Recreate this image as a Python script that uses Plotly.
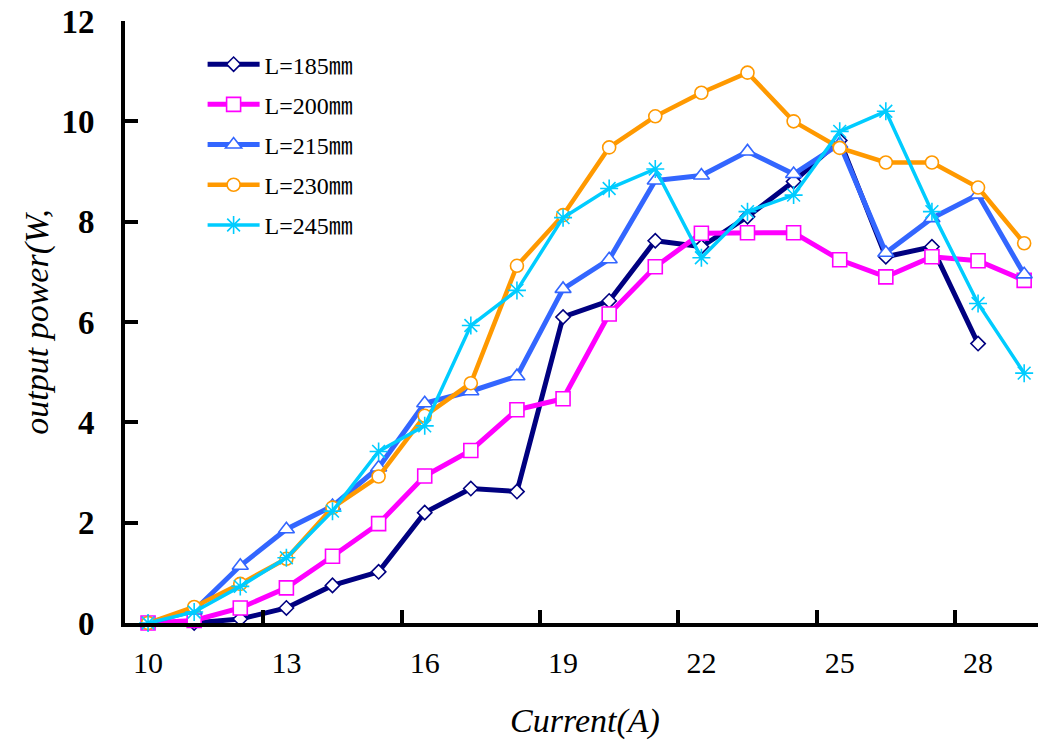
import plotly.graph_objects as go

current = [10, 11, 12, 13, 14, 15, 16, 17, 18, 19, 20, 21, 22, 23, 24, 25, 26, 27, 28, 29]

p185 = [0, 0, 0.08, 0.3, 0.75, 1.02, 2.2, 2.68, 2.62, 6.1, 6.42, 7.62, 7.5, 8.1, 8.8, 9.62, 7.3, 7.5, 5.57, None]
p200 = [0, 0.05, 0.3, 0.7, 1.33, 1.98, 2.93, 3.44, 4.25, 4.47, 6.16, 7.1, 7.77, 7.78, 7.78, 7.24, 6.9, 7.3, 7.22, 6.83]
p215 = [0, 0.25, 1.14, 1.87, 2.33, 3.1, 4.38, 4.62, 4.92, 6.66, 7.25, 8.82, 8.92, 9.4, 8.95, 9.55, 7.38, 8.07, 8.54, 6.95]
p230 = [0, 0.32, 0.78, 1.28, 2.3, 2.92, 4.13, 4.78, 7.12, 8.13, 9.48, 10.1, 10.57, 10.97, 10.0, 9.47, 9.18, 9.18, 8.68, 7.57]
p245 = [0, 0.22, 0.73, 1.3, 2.23, 3.42, 3.93, 5.93, 6.63, 8.08, 8.66, 9.05, 7.28, 8.2, 8.53, 9.8, 10.2, 8.2, 6.37, 4.98]

series_names = ["L=185㎜", "L=200㎜", "L=215㎜", "L=230㎜", "L=245㎜"]
x_tick_vals = [10, 13, 16, 19, 22, 25, 28]
x_boundary_ticks = [12.5, 15.5, 18.5, 21.5, 24.5, 27.5]
y_tick_vals = [0, 2, 4, 6, 8, 10, 12]
x_title = "Current(A)"
y_title = "output power(W,"

styles = [
    dict(color="#000080", symbol="diamond", size=11, lw=5),
    dict(color="#FF00FF", symbol="square", size=14, lw=5),
    dict(color="#3366FF", symbol="triangle-up", size=14, lw=5),
    dict(color="#FF9900", symbol="circle", size=13, lw=4.5),
    dict(color="#00CCFF", symbol="asterisk-open", size=15, lw=3.5),
]

fig = go.Figure()
for i, (name, ys, st) in enumerate(zip(series_names, [p185, p200, p215, p230, p245], styles)):
    fill = "white" if not st["symbol"].endswith("open") else st["color"]
    fig.add_trace(go.Scatter(
        x=current, y=ys, name=name, mode="lines+markers",
        legendgroup=f"g{i}",
        line=dict(color=st["color"], width=st["lw"]),
        marker=dict(symbol=st["symbol"], size=st["size"], color=fill,
                    line=dict(color=st["color"], width=1.6)),
        cliponaxis=False,
    ))

fig.update_layout(
    width=1038, height=747,
    margin=dict(l=125, r=0, t=21, b=124),
    paper_bgcolor="white", plot_bgcolor="white",
    showlegend=True,
    legend=dict(
        x=0.085, y=0.965, xanchor="left", yanchor="top",
        bgcolor="rgba(0,0,0,0)", borderwidth=0,
        font=dict(family="Liberation Serif, Noto Sans CJK SC", size=24, color="black"),
        tracegroupgap=6, itemwidth=52,
    ),
    xaxis=dict(
        range=[9.5, 29.3], tickmode="array", tickvals=x_tick_vals,
        ticks="", showgrid=False, zeroline=False,
        showline=True, linecolor="black", linewidth=4,
        tickfont=dict(family="Liberation Serif", size=30, color="black"),
        ticklabelstandoff=10,
        minor=dict(tickmode="array", tickvals=x_boundary_ticks, ticks="inside",
                   ticklen=13, tickwidth=4, tickcolor="black", showgrid=False),
    ),
    yaxis=dict(
        range=[0, 12], tickmode="array", tickvals=y_tick_vals,
        ticks="inside", ticklen=13, tickwidth=4, tickcolor="black",
        showgrid=False, zeroline=False,
        showline=True, linecolor="black", linewidth=4,
        tickfont=dict(family="Liberation Serif", size=33, weight="bold", color="black"),
        ticklabelstandoff=20,
        title=dict(text=y_title, standoff=4,
                   font=dict(family="Liberation Serif", size=34, style="italic", color="black")),
    ),
    annotations=[
        dict(text=x_title, xref="paper", yref="paper", x=0.504, y=-0.162,
             xanchor="center", yanchor="middle", showarrow=False,
             font=dict(family="Liberation Serif", size=34, style="italic", color="black")),
    ],
)

fig.write_html("out.html")
